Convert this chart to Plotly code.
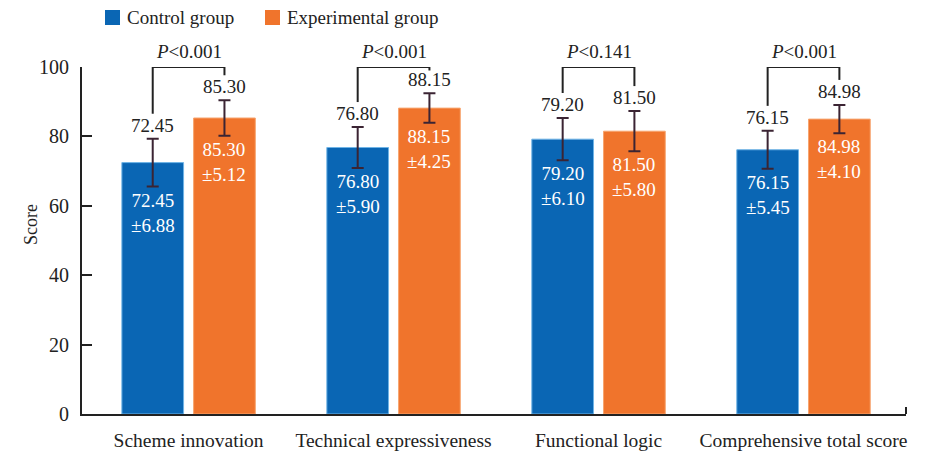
import plotly.graph_objects as go

# ---- data ----
categories = ["Scheme innovation", "Technical expressiveness", "Functional logic", "Comprehensive total score"]
control_mean = [72.45, 76.80, 79.20, 76.15]
control_sd = [6.88, 5.90, 6.10, 5.45]
exp_mean = [85.30, 88.15, 81.50, 84.98]
exp_sd = [5.12, 4.25, 5.80, 4.10]
p_labels = ["<0.001", "<0.001", "<0.141", "<0.001"]
y_ticks = [0, 20, 40, 60, 80, 100]

# ---- style ----
BLUE = "#0a66b4"
ORANGE = "#f0742c"
INK = "#222222"
ERR = "#3b2433"
FONT = "Liberation Serif"
W, H = 939, 451
L, R, T, B = 82, 33, 67, 37
OFF = 0.175  # half-slot offset of each bar inside a group


def px_x(x):
    return (x - L) / (W - L - R)


def px_y(y):
    return (H - B - y) / (H - T - B)


fig = go.Figure()
fig.add_trace(go.Bar(
    x=categories, y=control_mean, name="Control group",
    marker=dict(color=BLUE, line=dict(color="#6fb4e6", width=1)),
    error_y=dict(type="data", array=control_sd, color=ERR, thickness=2, width=6),
))
fig.add_trace(go.Bar(
    x=categories, y=exp_mean, name="Experimental group",
    marker=dict(color=ORANGE, line=dict(color="#f7a46e", width=1)),
    error_y=dict(type="data", array=exp_sd, color=ERR, thickness=2, width=6),
))

annotations = []
shapes = []
for i in range(len(categories)):
    legs = []
    for side, v, sd in ((-1, control_mean[i], control_sd[i]), (1, exp_mean[i], exp_sd[i])):
        x = i + side * OFF
        # value above the error bar
        annotations.append(dict(
            x=x, y=v + sd + 0.3, xref="x", yref="y", yanchor="bottom",
            text=f"{v:.2f}", showarrow=False,
            font=dict(family=FONT, size=19, color=INK)))
        # mean ± sd inside the bar
        annotations.append(dict(
            x=x, y=v - sd - 0.3, xref="x", yref="y", yanchor="top",
            text=f"{v:.2f}<br>±{sd:.2f}", showarrow=False,
            font=dict(family=FONT, size=19, color="white")))
        legs.append((x, min(v + sd + 7.2, 99.0)))
    # significance bracket
    (xl, yl), (xr, yr) = legs
    line = dict(color=INK, width=2)
    shapes.append(dict(type="line", xref="x", yref="y", x0=xl, x1=xl, y0=yl, y1=100, line=line))
    shapes.append(dict(type="line", xref="x", yref="y", x0=xl, x1=xr, y0=100, y1=100, line=line))
    shapes.append(dict(type="line", xref="x", yref="y", x0=xr, x1=xr, y0=yr, y1=100, line=line))
    annotations.append(dict(
        x=i, y=100, xref="x", yref="y", yanchor="bottom", yshift=3,
        text=f"<i>P</i>{p_labels[i]}", showarrow=False,
        font=dict(family=FONT, size=19, color=INK)))

# end tick on the category axis
shapes.append(dict(type="line", xref="paper", yref="y", x0=1, x1=1, y0=0, y1=2,
                   line=dict(color=INK, width=2)))

# legend
legend_items = [("Control group", BLUE, 105), ("Experimental group", ORANGE, 265)]
for label, color, x0 in legend_items:
    shapes.append(dict(type="rect", xref="paper", yref="paper",
                       x0=px_x(x0), x1=px_x(x0 + 15), y0=px_y(25), y1=px_y(10),
                       fillcolor=color, line=dict(width=0)))
    annotations.append(dict(
        x=px_x(x0 + 20), y=px_y(17.5), xref="paper", yref="paper",
        xanchor="left", yanchor="middle", text=label, showarrow=False,
        font=dict(family=FONT, size=19, color=INK)))

# y-axis title
annotations.append(dict(
    x=px_x(19), y=px_y(225), xref="paper", yref="paper", textangle=-90,
    text="Score", showarrow=False, font=dict(family=FONT, size=18, color=INK)))

fig.update_layout(
    width=W, height=H,
    margin=dict(l=L, r=R, t=T, b=B, pad=0),
    paper_bgcolor="white", plot_bgcolor="white",
    barmode="group", bargap=0.3, bargroupgap=0.14,
    showlegend=False,
    font=dict(family=FONT, size=19, color=INK),
    annotations=annotations, shapes=shapes,
)
fig.update_xaxes(
    range=[-0.52, 3.5], showline=True, linecolor=INK, linewidth=2,
    ticks="", showgrid=False, ticklabelstandoff=8, automargin=False,
    tickfont=dict(family=FONT, size=19.5, color=INK),
)
fig.update_yaxes(
    range=[0, 100], tickvals=y_ticks, showline=True, linecolor=INK, linewidth=2,
    ticks="inside", ticklen=10, tickwidth=2, tickcolor=INK, showgrid=False,
    zeroline=False, ticklabelstandoff=7, automargin=False,
    tickfont=dict(family=FONT, size=20, color=INK),
)

fig.write_html("out.html")
